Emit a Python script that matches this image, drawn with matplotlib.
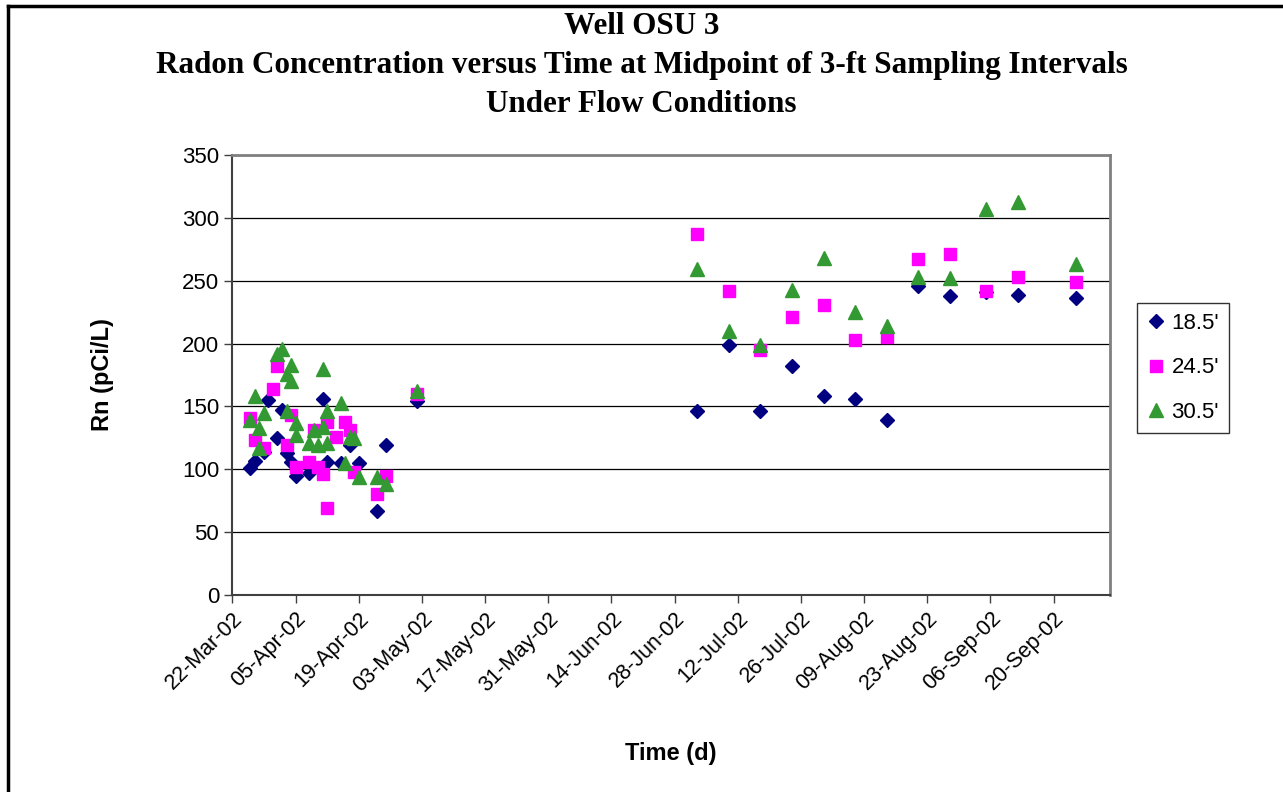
import matplotlib
matplotlib.use("Agg")
import matplotlib.pyplot as plt
import matplotlib.dates as mdates
from matplotlib.lines import Line2D
import numpy as np

# sampling dates and radon values (pCi/L)
dates_185 = ["2002-03-26", "2002-03-27", "2002-03-29", "2002-03-30", "2002-04-01",
             "2002-04-02", "2002-04-03", "2002-04-04", "2002-04-05", "2002-04-08",
             "2002-04-11", "2002-04-12", "2002-04-15", "2002-04-17", "2002-04-19",
             "2002-04-23", "2002-04-25", "2002-05-02",
             "2002-07-03", "2002-07-10", "2002-07-17", "2002-07-24", "2002-07-31",
             "2002-08-07", "2002-08-14", "2002-08-21", "2002-08-28", "2002-09-05",
             "2002-09-12", "2002-09-25"]
rn_185 = [101, 107, 114, 155, 125, 147, 113, 106, 95, 97,
          156, 106, 105, 119, 105, 67, 119, 154,
          146, 199, 146, 182, 158, 156, 139, 246, 238, 241, 239, 236]

dates_245 = ["2002-03-26", "2002-03-27", "2002-03-29", "2002-03-31", "2002-04-01",
             "2002-04-03", "2002-04-04", "2002-04-05", "2002-04-08", "2002-04-09",
             "2002-04-10", "2002-04-11", "2002-04-12", "2002-04-12", "2002-04-14",
             "2002-04-16", "2002-04-17", "2002-04-18", "2002-04-23", "2002-04-25",
             "2002-05-02",
             "2002-07-03", "2002-07-10", "2002-07-17", "2002-07-24", "2002-07-31",
             "2002-08-07", "2002-08-14", "2002-08-21", "2002-08-28", "2002-09-05",
             "2002-09-12", "2002-09-25"]
rn_245 = [141, 123, 117, 164, 182, 119, 143, 102, 106, 131,
          102, 96, 69, 138, 126, 138, 131, 98, 80, 95,
          160,
          287, 242, 195, 221, 231, 203, 205, 267, 271, 242, 253, 249]

dates_305 = ["2002-03-26", "2002-03-27", "2002-03-28", "2002-03-28", "2002-03-29",
             "2002-04-01", "2002-04-02", "2002-04-03", "2002-04-03", "2002-04-04",
             "2002-04-04", "2002-04-05", "2002-04-05", "2002-04-08", "2002-04-09",
             "2002-04-10", "2002-04-11", "2002-04-11", "2002-04-12", "2002-04-12",
             "2002-04-15", "2002-04-16", "2002-04-17", "2002-04-18", "2002-04-19",
             "2002-04-23", "2002-04-25", "2002-05-02",
             "2002-07-03", "2002-07-10", "2002-07-17", "2002-07-24", "2002-07-31",
             "2002-08-07", "2002-08-14", "2002-08-21", "2002-08-28", "2002-09-05",
             "2002-09-12", "2002-09-25"]
rn_305 = [139, 158, 133, 117, 145, 192, 196, 176, 146, 183,
          170, 137, 127, 121, 131, 119, 180, 134, 146, 121,
          153, 105, 126, 125, 94, 94, 88, 162,
          259, 210, 199, 243, 268, 225, 214, 253, 252, 307, 313, 263]

title_lines = ["Well OSU 3",
               "Radon Concentration versus Time at Midpoint of 3-ft Sampling Intervals",
               "Under Flow Conditions"]

fig = plt.figure(figsize=(12.83, 7.92), dpi=100)
ax = fig.add_axes([0.1811, 0.2487, 0.8652 - 0.1811, 0.8043 - 0.2487])

d1 = mdates.datestr2num(dates_185)
d2 = mdates.datestr2num(dates_245)
d3 = mdates.datestr2num(dates_305)

ax.plot(d1, rn_185, ls="none", marker="D", ms=7.5, color="#000080", label="18.5'")
ax.plot(d2, rn_245, ls="none", marker="s", ms=9, color="#FF00FF", label="24.5'")
ax.plot(d3, rn_305, ls="none", marker="^", ms=10.5, color="#339933", label="30.5'")

x0 = mdates.datestr2num("2002-03-22")
ax.set_xlim(x0, x0 + 194.5)
ax.set_ylim(0, 350)
ax.set_xticks(x0 + np.arange(0, 183, 14))
ax.xaxis.set_major_formatter(mdates.DateFormatter("%d-%b-%y"))
ax.set_yticks(np.arange(0, 351, 50))

ax.grid(axis="y", color="black", lw=0.9)
ax.set_axisbelow(True)
for s in ["top", "right"]:
    ax.spines[s].set_color("#808080")
    ax.spines[s].set_linewidth(2)
for s in ["left", "bottom"]:
    ax.spines[s].set_color("#404040")
    ax.spines[s].set_linewidth(1.5)

ax.tick_params(axis="both", direction="out", length=6, width=1, color="#404040",
               labelsize=16)
for lbl in ax.get_xticklabels():
    lbl.set_rotation(45)
    lbl.set_ha("right")
    lbl.set_rotation_mode("anchor")
    lbl.set_fontsize(15.5)
for lbl in ax.get_xticklabels() + ax.get_yticklabels():
    lbl.set_family("Liberation Sans")

ax.set_xlabel("Time (d)", fontsize=17, fontweight="bold", family="Liberation Sans",
              labelpad=33)
ax.set_ylabel("Rn (pCi/L)", fontsize=17, fontweight="bold", family="Liberation Sans",
              labelpad=49)

for i, line in enumerate(title_lines):
    fig.text(0.5, 1 - (26 + 39 * i) / 792, line, ha="center", va="center",
             fontsize=22.4, fontweight="bold", family="Liberation Serif")

leg = ax.legend(loc="upper left", bbox_to_anchor=(1137 / 1283, 1 - 303 / 792),
                bbox_transform=fig.transFigure, borderaxespad=0,
                prop={"family": "Liberation Sans", "size": 16},
                frameon=True, fancybox=False, edgecolor="black", handlelength=0.8,
                handletextpad=0.3, labelspacing=1.05, borderpad=0.45)
leg.get_frame().set_linewidth(1)

# outer frame (left and top edge only visible)
fig.add_artist(Line2D([7.5 / 1283, 7.5 / 1283], [0, 1 - 6 / 792], color="black",
                      lw=2.5, transform=fig.transFigure))
fig.add_artist(Line2D([7.5 / 1283, 1], [1 - 6 / 792, 1 - 6 / 792], color="black",
                      lw=2.5, transform=fig.transFigure))

fig.savefig("out.png", dpi=100)
